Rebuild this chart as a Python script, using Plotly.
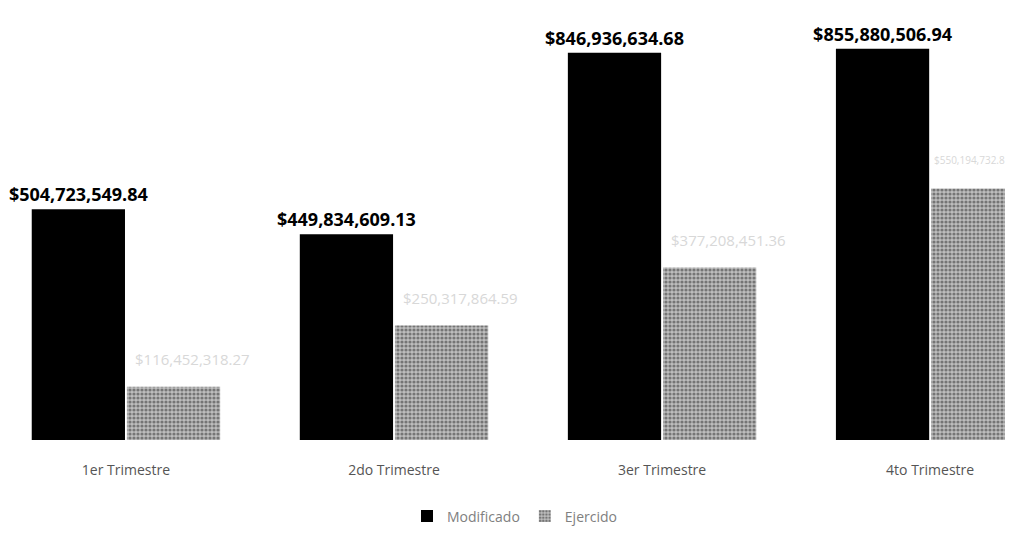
import plotly.graph_objects as go

categorias = ["1er Trimestre", "2do Trimestre", "3er Trimestre", "4to Trimestre"]
modificado = [504723549.84, 449834609.13, 846936634.68, 855880506.94]
ejercido = [116452318.27, 250317864.59, 377208451.36, 550194732.81]

def fmt(v):
    return "${:,.2f}".format(v)

fig = go.Figure()
fig.add_trace(go.Bar(
    name="Modificado", x=categorias, y=modificado,
    marker=dict(color="#000000", line=dict(width=0)),
    text=[fmt(v) for v in modificado], textposition="outside",
    constraintext="none",
    textfont=dict(family="Open Sans", size=18, color="#000000"),
    texttemplate="<b>%{text}</b>", cliponaxis=False,
))
fig.add_trace(go.Bar(
    name="Ejercido", x=categorias, y=ejercido,
    marker=dict(color="#a8a8a8", line=dict(width=0),
                pattern=dict(shape=".", fgcolor="#2e2e2e", bgcolor="#bdbdbd", size=4, solidity=0.5)),
    cliponaxis=False,
))

n = len(ejercido)
for i, v in enumerate(ejercido):
    last = (i == n - 1)
    fig.add_annotation(x=i + 0.18, y=v, text=fmt(v), showarrow=False,
                       xref="x", yref="y",
                       xanchor="right" if last else "center",
                       xshift=34 if last else 18, yshift=28,
                       font=dict(family="Open Sans", size=10 if last else 15, color="#d8d8d8"))

fig.update_layout(
    width=1013, height=536,
    margin=dict(l=0, r=0, t=0, b=104),
    paper_bgcolor="white", plot_bgcolor="white",
    barmode="group", bargap=0.29, bargroupgap=0.02,
    showlegend=True,
    legend=dict(orientation="h", x=0.5, xanchor="center", y=-0.14, yanchor="top",
                font=dict(family="Open Sans", size=14, color="#808080"),
                itemwidth=30, itemsizing="constant"),
    xaxis=dict(range=[-0.44, 3.339], showline=False, showgrid=False, ticks="",
               tickfont=dict(family="Open Sans", size=14, color="#555555"),
               ticklabelstandoff=20),
    yaxis=dict(range=[0, 944.8e6], visible=False, showgrid=False),
)

fig.write_html("out.html")
